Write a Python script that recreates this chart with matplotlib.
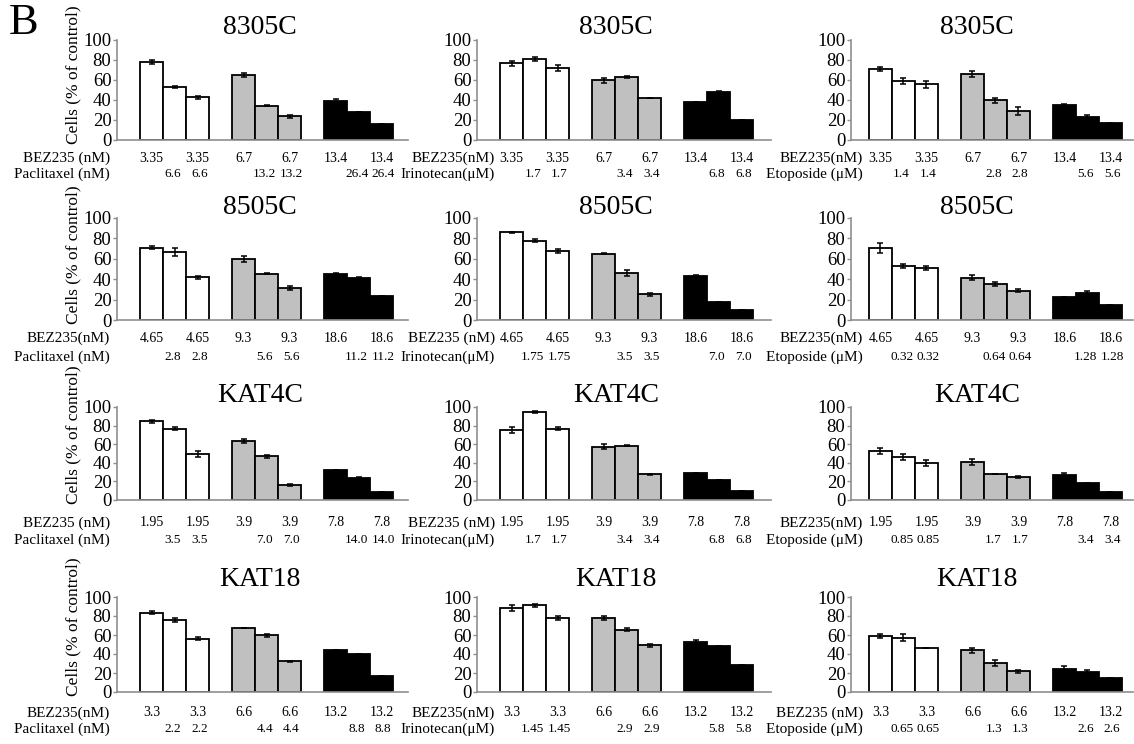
import matplotlib
matplotlib.use("Agg")
import matplotlib.pyplot as plt

plt.rcParams['font.family'] = ['Liberation Serif', 'DejaVu Serif']

# ---- data ----
cell_lines = ["8305C", "8505C", "KAT4C", "KAT18"]
drug_names = ["Paclitaxel", "Irinotecan", "Etoposide"]

# BEZ235 dose per group (nM), one list per cell line
bez_8305C = ["3.35", "6.7", "13.4"]
bez_8505C = ["4.65", "9.3", "18.6"]
bez_KAT4C = ["1.95", "3.9", "7.8"]
bez_KAT18 = ["3.3", "6.6", "13.2"]

# drug dose per group, [paclitaxel, irinotecan, etoposide]
dose_8305C = [["6.6", "13.2", "26.4"], ["1.7", "3.4", "6.8"], ["1.4", "2.8", "5.6"]]
dose_8505C = [["2.8", "5.6", "11.2"], ["1.75", "3.5", "7.0"], ["0.32", "0.64", "1.28"]]
dose_KAT4C = [["3.5", "7.0", "14.0"], ["1.7", "3.4", "6.8"], ["0.85", "1.7", "3.4"]]
dose_KAT18 = [["2.2", "4.4", "8.8"], ["1.45", "2.9", "5.8"], ["0.65", "1.3", "2.6"]]

# cells (% of control): 9 bars per panel, [paclitaxel, irinotecan, etoposide]
mean_8305C = [[78, 53, 43, 65.5, 34.5, 24, 39.5, 28, 15.7],
              [77, 81.5, 72.5, 60, 63.5, 42.3, 38, 48, 19.7],
              [71.5, 59, 56, 66, 40, 29, 35, 23.5, 16.7]]
err_8305C = [[2, 0.7, 1.5, 2, 0.5, 1.5, 1.2, 0, 0],
             [2.5, 2, 3, 2.5, 1, 0, 0, 0.7, 0],
             [2, 3, 3.5, 3, 2.5, 4, 1.5, 1.5, 0.5]]

mean_8505C = [[71, 66.5, 42, 59.5, 45.5, 31, 45, 41, 23.6],
              [86, 77.7, 67.2, 65, 46.2, 25.2, 43, 17.7, 9.8],
              [70.5, 53, 50.7, 41.5, 35, 28.8, 22.5, 26, 14.9]]
err_8505C = [[1.5, 4, 1.5, 3, 0.3, 2, 1.5, 1.5, 0],
             [0.3, 1.5, 2, 0.5, 3, 1.5, 1.5, 0, 0],
             [5, 2, 2, 2.5, 2, 1.5, 0.5, 2, 0]]

mean_KAT4C = [[84.5, 76.5, 49.5, 63.5, 47, 16, 32, 24, 9],
              [75.2, 95, 76.5, 57.4, 58.5, 27.5, 28.7, 21.6, 9.6],
              [53, 46, 40, 41, 28, 25, 27, 18, 8.1]]
err_KAT4C = [[1.5, 1.5, 3.5, 2, 1.5, 0.7, 0, 0.5, 0],
             [3, 1, 1.5, 3, 0.7, 0.3, 0, 0, 0],
             [3, 3, 3.5, 3.5, 0.3, 1, 2.5, 0.5, 0]]

mean_KAT18 = [[83.5, 76, 56, 67, 59.6, 32.3, 44.5, 40, 16.5],
              [88.5, 91.5, 77.6, 78.3, 65.5, 49.3, 52.5, 48.3, 28.3],
              [59, 57.2, 46.3, 44, 30.5, 22, 24.7, 21, 14.5]]
err_KAT18 = [[1.5, 2, 1.5, 0, 1.5, 0.5, 0, 0.3, 0],
             [3.5, 1.5, 2, 2, 1.5, 1.5, 2, 0, 0.3],
             [2.5, 3.5, 0.3, 2.5, 3, 1.5, 2.5, 2, 0]]

bez_all = [bez_8305C, bez_8505C, bez_KAT4C, bez_KAT18]
dose_all = [dose_8305C, dose_8505C, dose_KAT4C, dose_KAT18]
mean_all = [mean_8305C, mean_8505C, mean_KAT4C, mean_KAT18]
err_all = [err_8305C, err_8505C, err_KAT4C, err_KAT18]

bez_text = [["BEZ235 (nM)", "BEZ235(nM)", "BEZ235(nM)"],
            ["BEZ235(nM)", "BEZ235 (nM)", "BEZ235(nM)"],
            ["BEZ235 (nM)", "BEZ235 (nM)", "BEZ235(nM)"],
            ["BEZ235(nM)", "BEZ235(nM)", "BEZ235 (nM)"]]
drug_text = ["Paclitaxel (nM)", "Irinotecan(\u03bcM)", "Etoposide (\u03bcM)"]

# ---- layout (pixels) ----
W, H = 1134, 744
pos = [0, 1, 2, 4, 5, 6, 8, 9, 10]
bar_colors = ["white"] * 3 + ["#c0c0c0"] * 3 + ["black"] * 3
col_spec = [(117, -1.5, 11.15), (477, -1.5, 11.28), (851, -1.28, 11.0)]
row_spec = [(40, 140), (218, 320), (407, 500), (597, 692)]
title_x = [260, 616, 977]
title_y = [27, 207, 395, 579]
label_right = [110, 495, 863]
bez_dy = [18, 18, 23, 21]
drug_dy = [34, 37, 40, 37]
px_per_unit = 23


def fx(px):
    return px / W


def fy(py):
    return 1 - py / H


fig = plt.figure(figsize=(11.34, 7.44), dpi=100)
axis_grey = "#8f8f8f"

for r in range(4):
    top, zero = row_spec[r]
    for c in range(3):
        left, xmin, xmax = col_spec[c]
        wpx = (xmax - xmin) * px_per_unit
        ax = fig.add_axes([fx(left), fy(zero), wpx / W, (zero - top) / H])
        ax.bar(pos, mean_all[r][c], width=1, color=bar_colors,
               edgecolor="black", linewidth=1.3, yerr=err_all[r][c],
               error_kw=dict(ecolor="black", elinewidth=1.1, capsize=2.5, capthick=1.1))
        ax.set_xlim(xmin, xmax)
        ax.set_ylim(0, 100)
        ax.set_yticks([0, 20, 40, 60, 80, 100])
        ax.set_xticks([])
        for s in ["top", "right"]:
            ax.spines[s].set_visible(False)
        for s in ["left", "bottom"]:
            ax.spines[s].set_color(axis_grey)
            ax.spines[s].set_linewidth(1.2)
        ax.tick_params(axis="y", length=3, width=1, color=axis_grey, pad=1,
                       labelsize=13.5)

        # dose labels below bars
        for g in range(3):
            base = 4 * g
            for k in (0, 2):
                ax.annotate(bez_all[r][g], xy=(base + k, 0),
                            xycoords=ax.get_xaxis_transform(),
                            xytext=(0, -bez_dy[r] * 0.72), textcoords="offset points",
                            ha="center", va="center", fontsize=10)
            for k, shift in ((1, -1.3), (2, 1.3)):
                ax.annotate(dose_all[r][c][g], xy=(base + k, 0),
                            xycoords=ax.get_xaxis_transform(),
                            xytext=(shift, -drug_dy[r] * 0.72), textcoords="offset points",
                            ha="center", va="center", fontsize=9.5)

        fig.text(fx(label_right[c]), fy(zero + bez_dy[r]), bez_text[r][c],
                 ha="right", va="center", fontsize=11)
        fig.text(fx(label_right[c]), fy(zero + drug_dy[r]), drug_text[c],
                 ha="right", va="center", fontsize=11)
        fig.text(fx(title_x[c]), fy(title_y[r]), cell_lines[r],
                 ha="center", va="center", fontsize=20)

    fig.text(fx(73), fy(zero + 4), "Cells (% of control)", rotation=90,
             ha="center", va="bottom", fontsize=12.5)

fig.text(fx(9), fy(3), "B", ha="left", va="top", fontsize=32)

fig.savefig("out.png", dpi=100)
